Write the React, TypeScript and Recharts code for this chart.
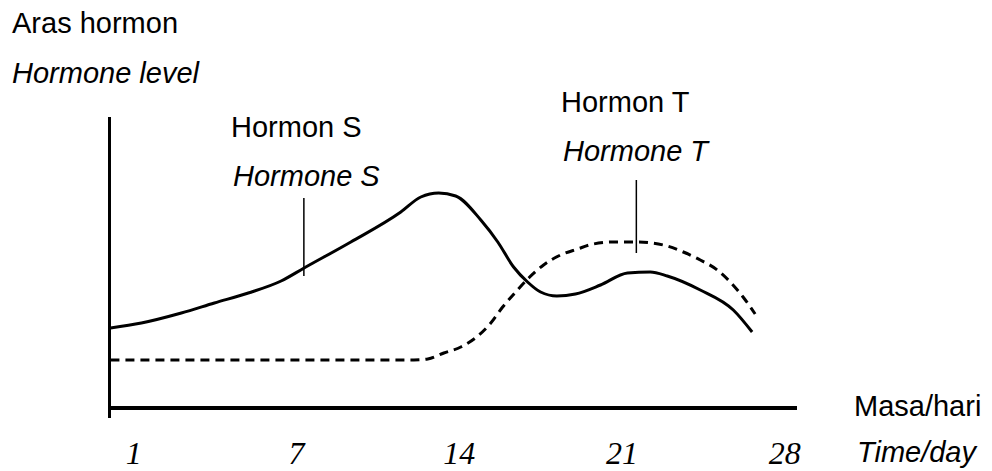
import {
  LineChart,
  Line,
  XAxis,
  YAxis,
  ReferenceLine,
} from "recharts";

// tick labels are spaced evenly along the axis in the original
const TICK_LABELS = ["1", "7", "14", "21", "28"];
const TICK_POS = [0, 7, 14, 21, 28];

// Hormone S (solid)
const S_DAY = [
  -1.0, 0.33, 2.05, 3.47, 4.93, 6.34, 7.33, 9.34, 11.49, 12.35, 13.12, 13.85,
  14.93, 15.66, 16.34, 16.94, 17.5, 18.2, 19.0, 20.08, 21.24, 22.22, 22.95,
  24.37, 25.79, 26.6,
];
const S_LEVEL = [
  9.0, 9.5, 10.5, 11.5, 12.5, 13.7, 15.0, 17.6, 20.6, 22.1, 22.5, 22.2, 19.8,
  17.6, 15.1, 13.6, 12.6, 12.2, 12.4, 13.3, 14.5, 14.6, 14.2, 12.8, 10.8, 8.6,
];

// Hormone T (dashed)
const T_DAY = [
  -1.0, 2.91, 7.2, 12.05, 12.65, 13.34, 14.07, 14.8, 15.36, 15.87, 16.43,
  16.99, 17.63, 18.36, 19.09, 19.77, 20.63, 21.66, 22.78, 23.64, 24.37, 25.1,
  25.66, 26.21, 26.73,
];
const T_LEVEL = [
  5.8, 5.8, 5.8, 5.8, 5.9, 6.5, 7.1, 8.2, 9.5, 11.1, 12.6, 14.0, 15.3, 16.3,
  16.9, 17.4, 17.6, 17.6, 17.3, 16.6, 15.8, 14.8, 13.6, 12.1, 10.4,
];

const sData = S_DAY.map((day, i) => ({ day, level: S_LEVEL[i] }));
const tData = T_DAY.map((day, i) => ({ day, level: T_LEVEL[i] }));

const SANS = "'Liberation Sans', Arial, sans-serif";
const SERIF = "'Liberation Serif', 'Times New Roman', serif";

function DayTick(props: any) {
  const { x, y, payload } = props;
  const idx = TICK_POS.indexOf(payload.value);
  return (
    <text
      x={x}
      y={y + 38}
      textAnchor="middle"
      fontFamily={SERIF}
      fontStyle="italic"
      fontSize={32}
      fill="#000"
    >
      {TICK_LABELS[idx]}
    </text>
  );
}

export default function App() {
  return (
    <div
      style={{
        position: "absolute",
        left: 0,
        top: 0,
        width: 992,
        height: 471,
        background: "#fff",
      }}
    >
      <LineChart
        width={992}
        height={471}
        margin={{ top: 117, left: 109.5, right: 195, bottom: 0 }}
      >
        <XAxis
          type="number"
          dataKey="day"
          domain={[-1.04, 28.53]}
          ticks={TICK_POS}
          allowDataOverflow
          axisLine={false}
          tickLine={false}
          height={53}
          tick={<DayTick />}
        />
        <YAxis type="number" domain={[0, 30.1]} width={0} hide />
        {/* axes drawn as plain lines: y-axis runs below the x-axis */}
        <ReferenceLine x={-1.04} stroke="#000" strokeWidth={3} />
        <ReferenceLine y={1.0} stroke="#000" strokeWidth={4} />
        <ReferenceLine
          segment={[
            { x: 7.32, y: 22.0 },
            { x: 7.32, y: 14.2 },
          ]}
          stroke="#000"
          strokeWidth={1.5}
        />
        <ReferenceLine
          segment={[
            { x: 21.62, y: 23.8 },
            { x: 21.62, y: 16.5 },
          ]}
          stroke="#000"
          strokeWidth={1.5}
        />
        <Line
          data={tData}
          dataKey="level"
          type="monotone"
          stroke="#000"
          strokeWidth={3}
          strokeDasharray="9 6"
          dot={false}
          isAnimationActive={false}
        />
        <Line
          data={sData}
          dataKey="level"
          type="monotone"
          stroke="#000"
          strokeWidth={3}
          dot={false}
          isAnimationActive={false}
        />
      </LineChart>
      <svg
        width={992}
        height={471}
        style={{ position: "absolute", left: 0, top: 0, pointerEvents: "none" }}
        fontFamily={SANS}
        fontSize={29}
        fill="#000"
      >
        <text x={12} y={33}>Aras hormon</text>
        <text x={12} y={83} fontStyle="italic">Hormone level</text>
        <text x={231} y={137}>Hormon S</text>
        <text x={233} y={186} fontStyle="italic">Hormone S</text>
        <text x={561} y={112}>Hormon T</text>
        <text x={563} y={161} fontStyle="italic">Hormone T</text>
        <text x={854} y={416}>Masa/hari</text>
        <text x={857} y={462} fontStyle="italic">Time/day</text>
      </svg>
    </div>
  );
}
